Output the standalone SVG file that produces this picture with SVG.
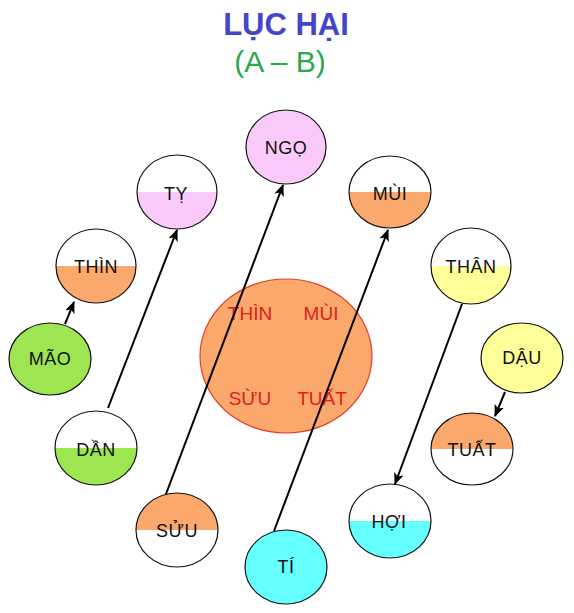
<svg xmlns="http://www.w3.org/2000/svg" width="574" height="613" viewBox="0 0 574 613">
<style>
.title{font-family:"Liberation Sans",Arial,sans-serif;font-weight:bold;font-size:31px;fill:#4346c8;text-anchor:middle}
.sub{font-family:"Liberation Sans",Arial,sans-serif;font-size:30px;fill:#2aa84a;text-anchor:middle}
.lbl{font-family:"Liberation Sans",Arial,sans-serif;font-size:18px;fill:#111;text-anchor:middle;letter-spacing:0.5px}
.red{font-family:"Liberation Sans",Arial,sans-serif;font-size:19px;fill:#e0201c;text-anchor:middle}
.ring{fill:none;stroke:#111;stroke-width:1.2}
.orange{fill:#fba86c}
.pink{fill:#f9c9f9}
.green{fill:#9de651}
.yellow{fill:#ffff99}
.cyan{fill:#66ffff}
.conn{stroke:#000;stroke-width:2;fill:none;marker-end:url(#arr)}
</style>
<defs>
<marker id="arr" viewBox="0 0 12 10" refX="11" refY="5" markerWidth="12" markerHeight="10" markerUnits="userSpaceOnUse" orient="auto">
<path d="M0,0 L12,5 L0,10 L3,5 Z" fill="#000"/>
</marker>
</defs>
<rect width="574" height="613" fill="#fff"/>
<text class="title" x="286" y="35">LỤC HẠI</text>
<text class="sub" x="280" y="72">(A – B)</text>

<g id="center">
<ellipse cx="286" cy="356" rx="86" ry="77" fill="#fba86c" stroke="#e0402a" stroke-width="1.2"/>
<text class="red" x="250" y="320">THÌN</text>
<text class="red" x="321" y="320">MÙI</text>
<text class="red" x="250" y="405">SỪU</text>
<text class="red" x="322" y="405">TUẤT</text>
</g>

<g id="ngo">
<ellipse class="pink" cx="286" cy="147" rx="40" ry="37"/>
<ellipse class="ring" cx="286" cy="147" rx="40" ry="37"/>
<text class="lbl" x="286" y="154">NGỌ</text>
</g>
<g id="ty">
<path class="pink" d="M137,192 A40,37 0 0 0 217,192 Z"/>
<ellipse class="ring" cx="177" cy="192" rx="40" ry="37"/>
<text class="lbl" x="176" y="200">TỴ</text>
</g>
<g id="mui">
<path class="orange" d="M349,192 A41,36 0 0 0 431,192 Z"/>
<ellipse class="ring" cx="390" cy="192" rx="41" ry="36"/>
<text class="lbl" x="390" y="200">MÙI</text>
</g>
<g id="thin">
<path class="orange" d="M56,266 A40,37 0 0 0 136,266 Z"/>
<ellipse class="ring" cx="96" cy="266" rx="40" ry="37"/>
<text class="lbl" x="96" y="273">THÌN</text>
</g>
<g id="than">
<path class="yellow" d="M431,266 A40,38 0 0 0 511,266 Z"/>
<ellipse class="ring" cx="471" cy="266" rx="40" ry="38"/>
<text class="lbl" x="471" y="273">THÂN</text>
</g>
<g id="mao">
<ellipse class="green" cx="50" cy="359" rx="41" ry="36"/>
<ellipse class="ring" cx="50" cy="359" rx="41" ry="36"/>
<text class="lbl" x="50" y="365">MÃO</text>
</g>
<g id="dau">
<ellipse class="yellow" cx="522" cy="358" rx="41" ry="35"/>
<ellipse class="ring" cx="522" cy="358" rx="41" ry="35"/>
<text class="lbl" x="522" y="364">DẬU</text>
</g>
<g id="dan">
<path class="green" d="M55,448 A41,37 0 0 0 137,448 Z"/>
<ellipse class="ring" cx="96" cy="448" rx="41" ry="37"/>
<text class="lbl" x="96" y="456">DẦN</text>
</g>
<g id="tuat">
<path class="orange" d="M431,449 A41,36 0 0 1 513,449 Z"/>
<ellipse class="ring" cx="472" cy="449" rx="41" ry="36"/>
<text class="lbl" x="472" y="456">TUẤT</text>
</g>
<g id="hoi">
<path class="cyan" d="M349,521 A41,37 0 0 0 431,521 Z"/>
<ellipse class="ring" cx="390" cy="521" rx="41" ry="37"/>
<text class="lbl" x="389" y="528">HỢI</text>
</g>
<g id="suu">
<path class="orange" d="M136,530 A41,37 0 0 1 218,530 Z"/>
<ellipse class="ring" cx="177" cy="530" rx="41" ry="37"/>
<text class="lbl" x="177" y="537">SỬU</text>
</g>
<g id="ti">
<ellipse class="cyan" cx="286" cy="567" rx="41" ry="37"/>
<ellipse class="ring" cx="286" cy="567" rx="41" ry="37"/>
<text class="lbl" x="286" y="573">TÍ</text>
</g>

<g id="connectors">
<line class="conn" x1="65" y1="324" x2="74" y2="302"/>
<line class="conn" x1="108" y1="408" x2="177" y2="230"/>
<line class="conn" x1="166" y1="494" x2="283" y2="185"/>
<line class="conn" x1="274" y1="531" x2="388" y2="230"/>
<line class="conn" x1="462" y1="304" x2="395" y2="484"/>
<line class="conn" x1="505" y1="392" x2="495" y2="416"/>
</g>
</svg>
